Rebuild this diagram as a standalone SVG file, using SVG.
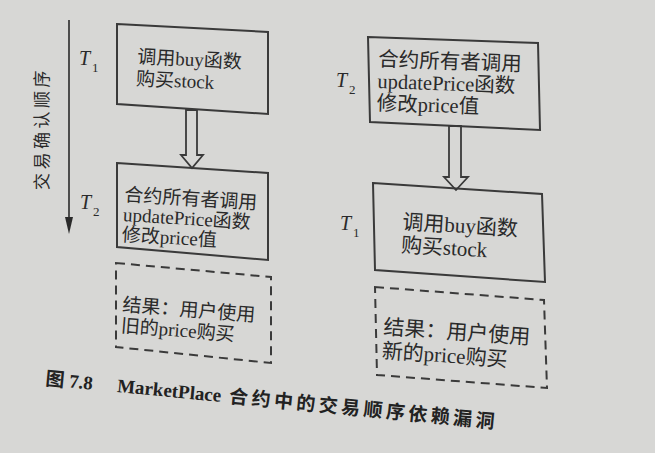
<svg xmlns="http://www.w3.org/2000/svg" width="655" height="453" viewBox="0 0 655 453">
<defs>
<style>
.bg{fill:#d7d7d5}
.box{fill:none;stroke:#3a3a3a;stroke-width:2}
.dash{fill:none;stroke:#3a3a3a;stroke-width:2;stroke-dasharray:9 6}
.hollow{fill:#d7d7d5;stroke:#3a3a3a;stroke-width:1.8;stroke-linejoin:miter}
.t{font-family:"Liberation Serif","Noto Sans CJK SC",serif;fill:#2a2a2a}
.tl{font-family:"Liberation Serif",serif;font-style:italic;fill:#2a2a2a;font-size:20px}
.sub{font-family:"Liberation Serif",serif;fill:#2a2a2a;font-size:13px}
.cap{font-family:"Liberation Serif","Noto Sans CJK SC",serif;font-weight:bold;fill:#222;font-size:19px}
</style>
<marker id="ah" markerWidth="8" markerHeight="16" refX="4" refY="15" orient="auto" markerUnits="userSpaceOnUse" viewBox="0 0 8 16">
<path d="M0,0 L4,16 L8,0 Z" fill="#2a2a2a"/>
</marker>
</defs>
<rect class="bg" x="0" y="0" width="655" height="453"/>

<g id="connectors">
<line x1="69" y1="20" x2="69" y2="218" stroke="#2a2a2a" stroke-width="1.6"/>
<path d="M65,217 L69,234 L73,217 Z" fill="#2a2a2a"/>
<polygon class="hollow" points="186,110 197,110 197,155 203,155 192,168 181,155 186,155"/>
<polygon class="hollow" points="449,126 461,126 461,177 468,177 456,190 444,177 449,177"/>
</g>

<g id="axis-label">
<text class="t" font-size="17" letter-spacing="3.5" transform="translate(48,190) rotate(-90)">交易确认顺序</text>
</g>

<g id="left-T1-label">
<text class="tl" x="79" y="65">T</text><text class="sub" x="92" y="72">1</text>
</g>
<g id="left-T2-label">
<text class="tl" x="80" y="209">T</text><text class="sub" x="93" y="216">2</text>
</g>
<g id="right-T2-label">
<text class="tl" x="336" y="87">T</text><text class="sub" x="349" y="94">2</text>
</g>
<g id="right-T1-label">
<text class="tl" x="340" y="230">T</text><text class="sub" x="353" y="237">1</text>
</g>

<g id="left-buy">
<polygon class="box" points="117,24 268,32 268,114 117,104"/>
<g transform="rotate(3,137,63)">
<text class="t" font-size="19" x="137" y="63">调用buy函数</text>
<text class="t" font-size="19" x="137" y="85">购买stock</text>
</g>
</g>

<g id="left-update">
<polygon class="box" points="117,163 268,173 268,260 117,247"/>
<g transform="rotate(3.5,124,202)">
<text class="t" font-size="19" x="124" y="201">合约所有者调用</text>
<text class="t" font-size="19" x="124" y="221">updatePrice函数</text>
<text class="t" font-size="19" x="124" y="241">修改price值</text>
</g>
</g>

<g id="left-result">
<polygon class="dash" points="116,263 271,277 271,363 116,347"/>
<g transform="rotate(4.5,122,312)">
<text class="t" font-size="19" x="122" y="311">结果：用户使用</text>
<text class="t" font-size="19" x="122" y="332">旧的price购买</text>
</g>
</g>

<g id="right-update">
<polygon class="box" points="368,37 538,43 540,130 370,122"/>
<g transform="rotate(2,378,67)">
<text class="t" font-size="20.5" x="378" y="66">合约所有者调用</text>
<text class="t" font-size="20.5" x="378" y="88">updatePrice函数</text>
<text class="t" font-size="20.5" x="378" y="110">修改price值</text>
</g>
</g>

<g id="right-buy">
<polygon class="box" points="373,183 542,194 545,282 375,270"/>
<g transform="rotate(3.5,402,230)">
<text class="t" font-size="21" x="402" y="229">调用buy函数</text>
<text class="t" font-size="21" x="402" y="252">购买stock</text>
</g>
</g>

<g id="right-result">
<polygon class="dash" points="375,287 544,300 547,388 377,375"/>
<g transform="rotate(4,383,335)">
<text class="t" font-size="21" x="383" y="334">结果：用户使用</text>
<text class="t" font-size="21" x="383" y="358">新的price购买</text>
</g>
</g>

<g id="caption" transform="rotate(5.5,45,385)">
<text class="cap" x="45" y="385">图 7.8<tspan x="117">MarketPlace</tspan><tspan dx="8" letter-spacing="3.5">合约中的交易顺序依赖漏洞</tspan></text>
</g>
</svg>
